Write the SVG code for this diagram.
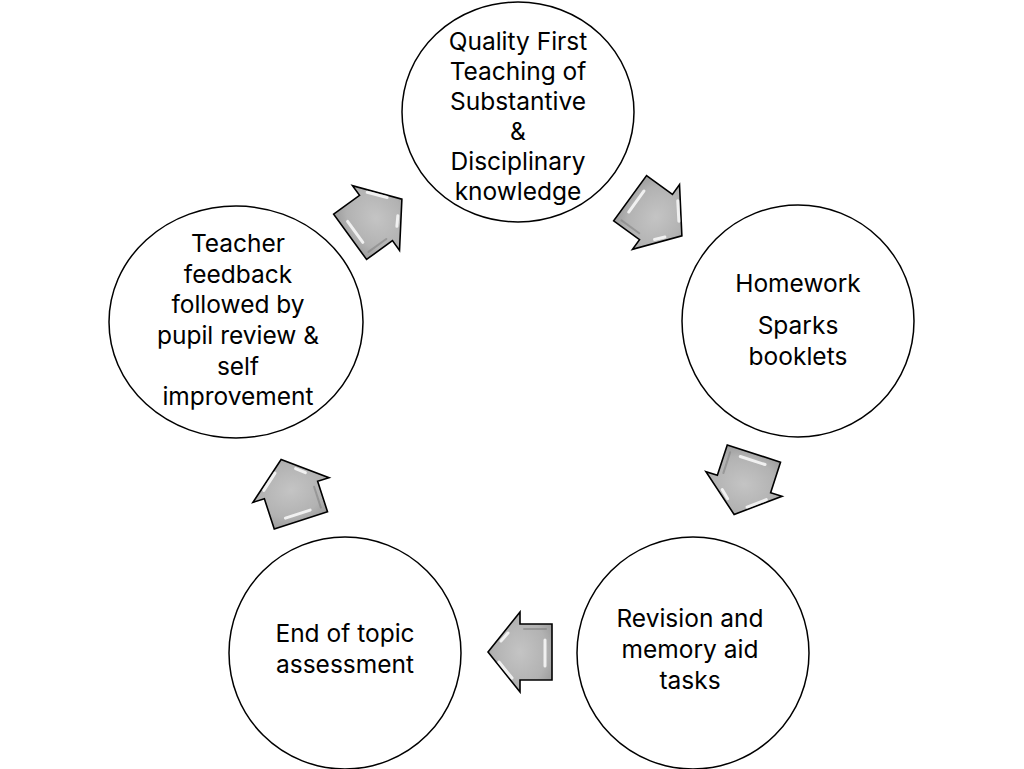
<svg xmlns="http://www.w3.org/2000/svg" width="1024" height="769" viewBox="0 0 1024 769">
<style>
.node{fill:#fff;stroke:#000;stroke-width:1.5}
.lbl{font-family:Inter,"Open Sans",sans-serif;font-size:24.5px;fill:#000;text-anchor:middle}
.arr{fill:url(#g);stroke:#000;stroke-width:1.6;stroke-linejoin:miter}
.hl{fill:none;stroke:#fff;stroke-width:3;stroke-linecap:round;opacity:.8}
.sh{fill:none;stroke:#7a7a7a;stroke-width:2;stroke-linecap:round;opacity:.5}
</style>
<defs>
<radialGradient id="g" cx="0.5" cy="0.5" r="0.6">
<stop offset="0" stop-color="#c4c4c4"/>
<stop offset="0.7" stop-color="#b2b2b2"/>
<stop offset="1" stop-color="#9c9c9c"/>
</radialGradient>
<g id="arrow">
<path class="arr" d="M-32,-28 H0 V-40 L32,0 L0,40 V28 H-32 Z"/>
<path class="hl" d="M-25,-14 V12"/>
<path class="hl" d="M8,-26 L21,-10"/>
<path class="hl" d="M19,11 L12,19"/>
<path class="sh" d="M-26,23 H-4"/>
</g>
</defs>
<rect width="1024" height="769" fill="#fff"/>
<g id="connectors">
<use href="#arrow" transform="translate(656,217) rotate(36)"/>
<use href="#arrow" transform="translate(744,484) rotate(108)"/>
<use href="#arrow" transform="translate(520,652) rotate(180)"/>
<use href="#arrow" transform="translate(291,490) rotate(252)"/>
<use href="#arrow" transform="translate(376,218) rotate(324)"/>
</g>
<g id="node1">
<ellipse class="node" cx="518" cy="112" rx="116" ry="110"/>
<text class="lbl" x="518" y="50">Quality First</text>
<text class="lbl" x="518" y="80">Teaching of</text>
<text class="lbl" x="518" y="110">Substantive</text>
<text class="lbl" x="518" y="140">&amp;</text>
<text class="lbl" x="518" y="170">Disciplinary</text>
<text class="lbl" x="518" y="200">knowledge</text>
</g>
<g id="node2">
<circle class="node" cx="798" cy="321" r="116"/>
<text class="lbl" x="798" y="292">Homework</text>
<text class="lbl" x="798" y="334">Sparks</text>
<text class="lbl" x="798" y="365">booklets</text>
</g>
<g id="node3">
<circle class="node" cx="693" cy="653" r="116"/>
<text class="lbl" x="690" y="627">Revision and</text>
<text class="lbl" x="690" y="658">memory aid</text>
<text class="lbl" x="690" y="689">tasks</text>
</g>
<g id="node4">
<circle class="node" cx="345" cy="653" r="116"/>
<text class="lbl" x="345" y="642">End of topic</text>
<text class="lbl" x="345" y="673">assessment</text>
</g>
<g id="node5">
<ellipse class="node" cx="236" cy="322" rx="127" ry="116"/>
<text class="lbl" x="238" y="252">Teacher</text>
<text class="lbl" x="238" y="283">feedback</text>
<text class="lbl" x="238" y="313">followed by</text>
<text class="lbl" x="238" y="344">pupil review &amp;</text>
<text class="lbl" x="238" y="375">self</text>
<text class="lbl" x="238" y="405">improvement</text>
</g>
</svg>
